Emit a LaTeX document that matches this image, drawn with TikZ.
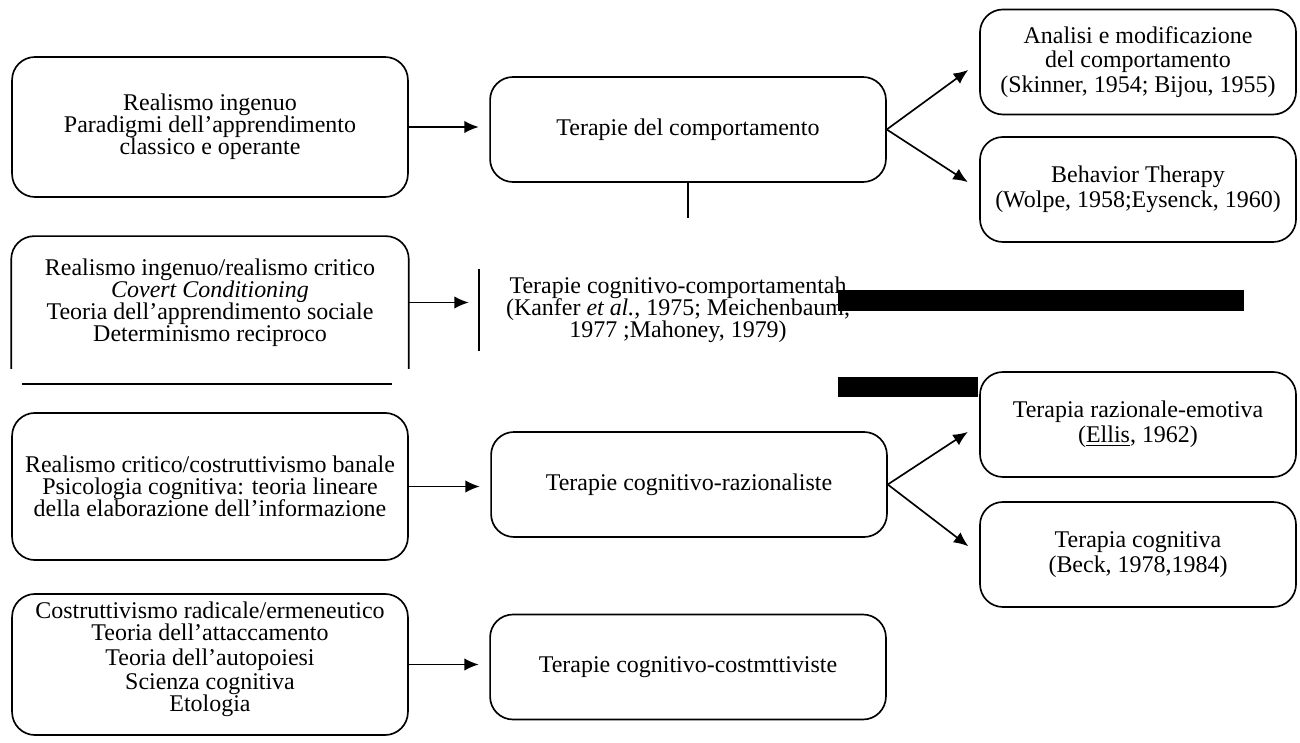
\documentclass[tikz,border=0pt]{standalone}
\usepackage{fontspec}
\setmainfont{Liberation Serif}
\usetikzlibrary{arrows.meta}
\tikzset{
  box/.style={draw, line width=0.8pt, rounded corners=11pt, align=center, inner sep=2pt,
    font=\fontsize{11.5}{10.6}\selectfont},
  leftbox/.style={box, minimum width=190pt, minimum height=67.2pt},
  midbox/.style={box, minimum width=190pt, minimum height=50.4pt},
  rightbox/.style={box, minimum width=151.7pt, minimum height=50.4pt,
    font=\fontsize{11.5}{11.8}\selectfont},
  arr/.style={line width=0.8pt, -{Latex[length=7pt,width=6pt]}, shorten >=5pt},
  diag/.style={arr, shorten >=6.5pt},
}

\begin{document}
\begin{tikzpicture}[x=0.48pt, y=-0.48pt]
\useasboundingbox (0,0) rectangle (1300,743);

% first row
\node[leftbox] (l1) at (210,127) {Realismo ingenuo\\Paradigmi dell’apprendimento\\classico e operante};
\node[midbox] (m1) at (688,129.5) {Terapie del comportamento};
\node[rightbox] (r1) at (1138,62) {Analisi e modificazione\\del comportamento\\(Skinner, 1954; Bijou, 1955)};
\node[rightbox] (r2) at (1138,189.5) {Behavior Therapy\\(Wolpe, 1958;Eysenck, 1960)};
\draw[arr] (l1.east) -- (l1.east -| m1.west);
\draw[diag] (m1.east) -- (r1.west);
\draw[diag] (m1.east) -- (r2.west);
\draw[line width=0.8pt] (m1.south) -- ++(0,35);

% second row (open boxes)
\node[leftbox, draw=none, minimum height=62.9pt] (l2) at (210,302.5) {Realismo ingenuo/realismo critico\\\textit{Covert Conditioning}\\Teoria dell’apprendimento sociale\\Determinismo reciproco};
\draw[line width=0.8pt, rounded corners=11pt] (l2.south west) |- (l2.north) -| (l2.south east);
\draw[line width=0.8pt] (22,384) -- (392,384);
\node[midbox, draw=none, minimum height=38.4pt] (m2) at (678,310) {Terapie cognitivo-comportamentah\\(Kanfer \textit{et al.}, 1975; Meichenbaum,\\1977 ;Mahoney, 1979)};
\draw[line width=0.8pt] (m2.north west) -- (m2.south west);
\draw[arr] (l2.east) -- (l2.east -| m2.west);
\fill (838,290) rectangle (1244,311);
\fill (838,377) rectangle (978,397);

% third row
\node[leftbox, minimum height=70.6pt] (l3) at (210,486.5) {Realismo critico/costruttivismo banale\\Psicologia cognitiva: teoria lineare\\della elaborazione dell’informazione};
\node[midbox] (m3) at (689,484.5) {Terapie cognitivo-razionaliste};
\node[rightbox] (r3) at (1138,424.5) {Terapia razionale-emotiva\\(\underline{Ellis}, 1962)};
\node[rightbox] (r4) at (1138,554.5) {Terapia cognitiva\\(Beck, 1978,1984)};
\draw[arr] (l3.east) -- (l3.east -| m3.west);
\draw[diag] (m3.east) -- (r3.west);
\draw[diag] (m3.east) -- (r4.west);

% fourth row, text set apart from its box
\node[leftbox, minimum height=67.7pt] (l4) at (210,664.5) {};
\node[align=center, inner sep=0pt, font=\fontsize{11.5}{10.6}\selectfont] (l4text) at ([yshift=2.5pt]l4.center)
  {Costruttivismo radicale/ermeneutico\\Teoria dell’attaccamento\\[1pt]Teoria dell’autopoiesi\\[1pt]Scienza cognitiva\\Etologia};
\node[midbox] (m4) at (688,667) {Terapie cognitivo-costmttiviste};
\draw[arr] (l4.east) -- (l4.east -| m4.west);

\end{tikzpicture}
\end{document}
